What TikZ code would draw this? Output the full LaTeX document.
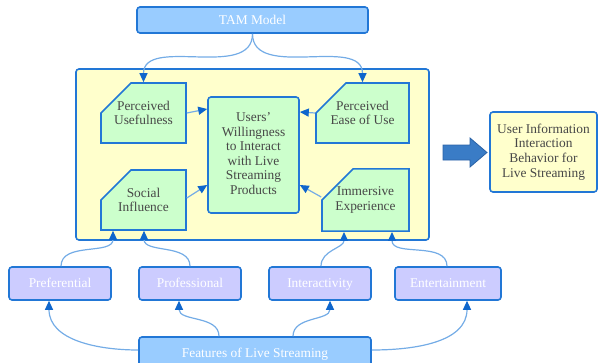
\documentclass[tikz,border=0pt]{standalone}
\usepackage{fontspec}
\setmainfont{Liberation Serif}
\usetikzlibrary{shapes.misc,arrows.meta,calc}
\definecolor{bord}{HTML}{2277D6}
\definecolor{lblue}{HTML}{99CCFF}
\definecolor{lpurp}{HTML}{CCCCFF}
\definecolor{lgreen}{HTML}{CCFFCC}
\definecolor{lyellow}{HTML}{FFFFCC}
\definecolor{lconn}{HTML}{74ACE6}
\definecolor{tipblue}{HTML}{0F66CC}
\definecolor{dtext}{HTML}{474747}
\definecolor{bigarrow}{HTML}{3A7CC6}
\definecolor{bigarrowb}{HTML}{2A62A6}
\begin{document}
\begin{tikzpicture}[x=1pt,y=1pt,
  txt/.style={font=\fontsize{13.4}{14.6}\selectfont},
  base/.style={draw=bord, line width=1.6pt, rounded corners=3pt, inner sep=0pt, align=center, txt},
  bluebox/.style={base, fill=lblue, text=white, text height=9.5pt, text depth=0.7pt},
  purpbox/.style={base, fill=lpurp, text=white, text height=9.5pt, text depth=0.7pt},
  ybox/.style={base, fill=lyellow, text=dtext},
  wbox/.style={base, fill=lgreen, text=dtext},
  greenbox/.style={draw=bord, line width=1.6pt, fill=lgreen, chamfered rectangle,
    chamfered rectangle corners=north west, chamfered rectangle xsep=20pt,
    chamfered rectangle ysep=18pt, inner sep=0pt, align=center, txt, text=dtext},
  conn/.style={draw=lconn, line width=1.2pt, -{Triangle[length=9pt,width=8pt,color=tipblue]}},
]
\useasboundingbox (0,0) rectangle (599,362);

% containers
\node[ybox, minimum width=353pt, minimum height=171pt] (yel) at (252.5,207.5) {};
\node[bluebox, minimum width=231pt, minimum height=26pt] (tam) at (252.5,342) {TAM Model};

% green boxes
\node[greenbox, minimum width=85pt, minimum height=48pt] (pu) at (143.5,249) {Perceived\\Usefulness};
\node[greenbox, minimum width=93pt, minimum height=48pt] (peou) at (362.5,249) {Perceived\\Ease of Use};
\node[greenbox, minimum width=85pt, minimum height=48pt] (si) at (143.5,162) {Social\\Influence};
\node[greenbox, minimum width=87pt, minimum height=48pt] (ie) at (365.5,162) {Immersive\\Experience};
\node[wbox, minimum width=91pt, minimum height=116pt] (w) at (253.5,207)
  {\raisebox{3pt}{\begin{tabular}{@{}c@{}}Users'\\Willingness\\to Interact\\with Live\\Streaming\\Products\end{tabular}}};

% result box
\node[ybox, minimum width=107pt, minimum height=80pt] (ui) at (543.5,210) {User Information\\Interaction\\Behavior for\\Live Streaming};

% features
\node[purpbox, minimum width=102pt, minimum height=33pt] (pref) at (60,78.5) {Preferential};
\node[purpbox, minimum width=102pt, minimum height=33pt] (prof) at (190,78.5) {Professional};
\node[purpbox, minimum width=102pt, minimum height=33pt] (inter) at (320,78.5) {Interactivity};
\node[purpbox, minimum width=106pt, minimum height=33pt] (ent) at (448,78.5) {Entertainment};
\node[bluebox, minimum width=232pt, minimum height=33pt] (feat) at (255,8.5) {Features of Live Streaming};

% big arrow
\draw[fill=bigarrow, draw=bigarrowb, line width=0.8pt, line join=miter]
  (443,217) -- (470,217) -- (470,224) -- (487,209.5) -- (470,195) -- (470,202) -- (443,202) -- cycle;

% connectors
\draw[conn] (tam.south) to[out=-90,in=90] (pu.north);
\draw[conn] (tam.south) to[out=-90,in=90] (peou.north);
\draw[conn] (pu.east) -- ($(w.west)+(0,46)$);
\draw[conn] (peou.west) -- ($(w.east)+(0,43)$);
\draw[conn] ($(si.east)+(0,2)$) -- ($(w.west)+(0,-30)$);
\draw[conn] ($(ie.west)+(0,3)$) -- ($(w.east)+(0,-30)$);

\draw[conn] ($(pref.north)+(1,0)$) to[out=90,in=-90] ($(si.south)+(-30.5,0)$);
\draw[conn] (prof.north) to[out=90,in=-90] ($(si.south)+(0.5,0)$);
\draw[conn] ($(inter.north)+(1,0)$) to[out=90,in=-90] ($(ie.south)+(-21.5,0)$);
\draw[conn] ($(ent.north)+(-1,0)$) to[out=90,in=-90] ($(ie.south)+(26.5,0)$);

\draw[conn] ($(feat.west)+(0,3.5)$) to[out=180,in=-90] ($(pref.south)+(-11,0)$);
\draw[conn] ($(feat.north)+(-36,0)$) to[out=90,in=-90] ($(prof.south)+(-11,0)$);
\draw[conn] ($(feat.north)+(38,0)$) to[out=90,in=-90] ($(inter.south)+(10,0)$);
\draw[conn] ($(feat.east)+(0,3.5)$) to[out=0,in=-90] ($(ent.south)+(19,0)$);
\end{tikzpicture}
\end{document}
